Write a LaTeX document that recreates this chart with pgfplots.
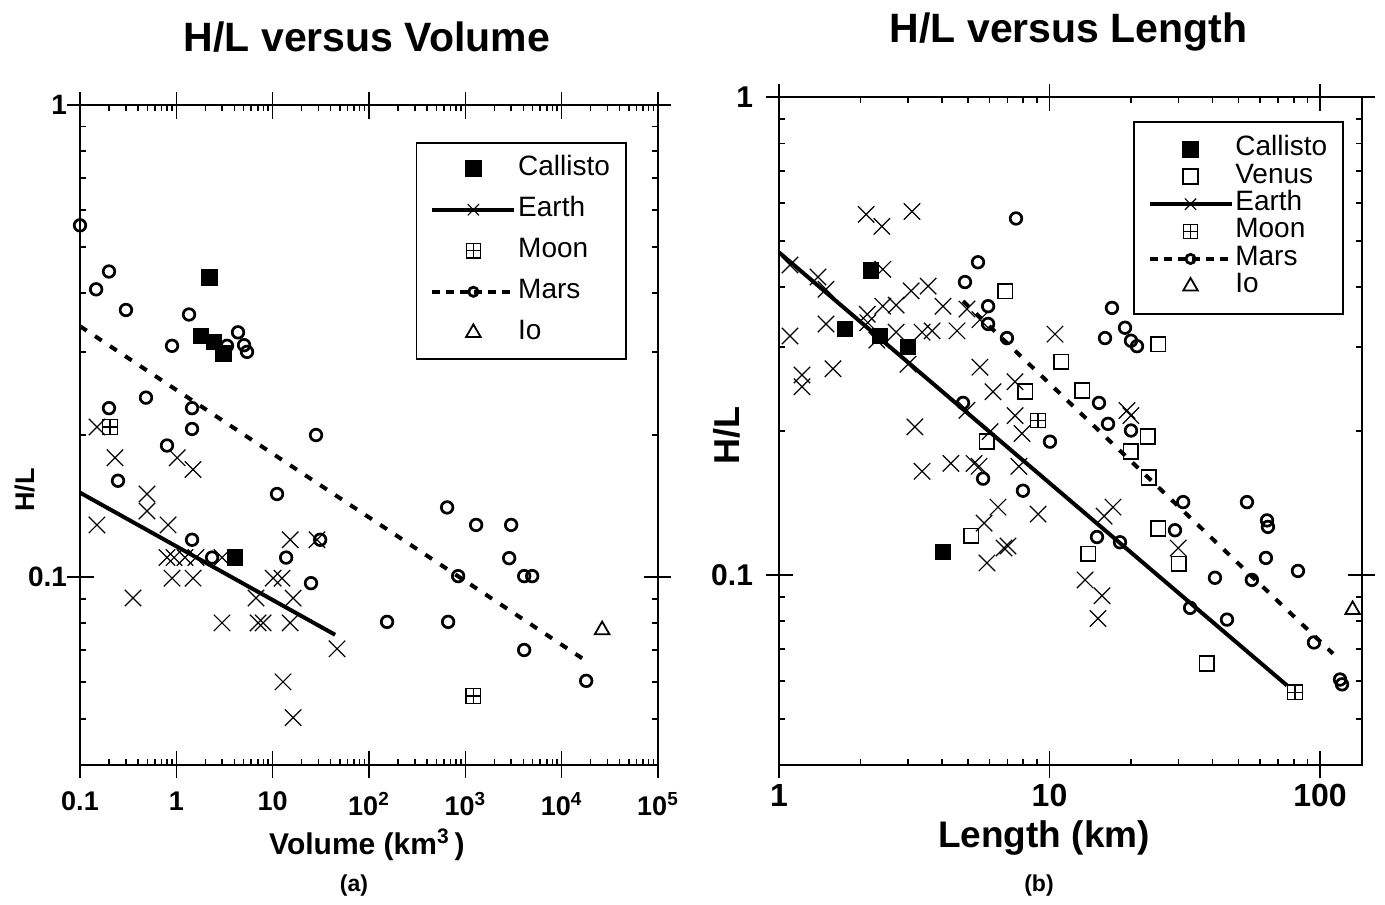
\documentclass[border=0pt]{standalone}
\usepackage{pgfplots}
\pgfplotsset{compat=1.18}
\usepackage{fontspec}
\setmainfont{Liberation Sans}
\usetikzlibrary{plotmarks}

% square with a plus inside (Moon)
\pgfdeclareplotmark{boxplus}{%
  \pgfpathrectangle{\pgfqpoint{-\pgfplotmarksize}{-\pgfplotmarksize}}{\pgfqpoint{2\pgfplotmarksize}{2\pgfplotmarksize}}%
  \pgfpathmoveto{\pgfqpoint{-\pgfplotmarksize}{0pt}}\pgfpathlineto{\pgfqpoint{\pgfplotmarksize}{0pt}}%
  \pgfpathmoveto{\pgfqpoint{0pt}{-\pgfplotmarksize}}\pgfpathlineto{\pgfqpoint{0pt}{\pgfplotmarksize}}%
  \pgfusepathqstroke}

\newcommand{\fs}[1]{\fontsize{#1}{#1}\selectfont}

\tikzset{
  callpt/.style={only marks, mark=square*, mark size=3.9pt, black},
  venpt/.style={only marks, mark=square, mark size=3.7pt, line width=0.9pt, black},
  earthpt/.style={only marks, mark=x, mark size=5.8pt, line width=0.6pt, black},
  moonpt/.style={only marks, mark=boxplus, mark size=3.6pt, line width=0.6pt, black},
  marspt/.style={only marks, mark=o, mark size=2.9pt, line width=1.35pt, black},
  iopt/.style={only marks, mark=triangle, mark size=4.2pt, line width=0.9pt, black},
  earthfit/.style={mark=none, line width=2pt, black},
  marsfit/.style={mark=none, line width=2pt, black, dash pattern=on 4pt off 5pt},
  earthleg/.style={black, line width=1.8pt, mark=x, mark size=4pt, mark options={line width=0.6pt}},
  marsleg/.style={black, line width=1.8pt, dash pattern=on 4pt off 3pt, mark=o, mark size=2.3pt, mark options={solid, line width=1.4pt}},
}

\begin{document}
\begin{tikzpicture}
\path[use as bounding box] (0pt,0pt) rectangle (692.5pt,452pt);

% ---------------- (a) H/L versus Volume ----------------
\begin{axis}[at={(40pt,69.5pt)}, anchor=south west, width=289pt, height=330pt,
  scale only axis, xmode=log, ymode=log, ymin=0.04, ymax=1,
  axis line style={line width=1.1pt},
  tick style={line width=0.8pt, black},
  tick align=inside, major tick length=7pt, minor tick length=3pt,
  clip=false,
  xmin=0.1, xmax=1e5,
  xtick={0.1,1,10,100,1000,10000,100000},
  xticklabels={0.1,1,10,10\textsuperscript{2},10\textsuperscript{3},10\textsuperscript{4},10\textsuperscript{5}},
  minor xtick={0.2,0.3,0.4,0.5,0.6,0.7,0.8,0.9,2,3,4,5,6,7,8,9,20,30,40,50,60,70,80,90,
    200,300,400,500,600,700,800,900,2000,3000,4000,5000,6000,7000,8000,9000,
    20000,30000,40000,50000,60000,70000,80000,90000},
  extra x ticks={0.1,1,10,100,1000,10000,100000}, extra x tick labels={},
  extra x tick style={tick align=outside, major tick length=6.5pt},
  ytick={0.1,1}, yticklabels={0.1,1},
  minor ytick={0.05,0.06,0.07,0.08,0.09,0.2,0.3,0.4,0.5,0.6,0.7,0.8,0.9},
  extra y ticks={0.1,1}, extra y tick labels={},
  extra y tick style={tick align=outside, major tick length=6.5pt},
  xticklabel style={font=\bfseries\fs{13.5}, yshift=-10pt},
  yticklabel style={font=\bfseries\fs{14}, xshift=-3pt},
  title={H/L versus Volume},
  title style={font=\bfseries\fs{20.5}, at={(0.4965,1.0803)}, anchor=base, yshift=-6pt},
  xlabel={Volume (km\textsuperscript{3}\,)},
  xlabel style={font=\bfseries\fs{15}, at={(0.4965,-0.121)}, anchor=center},
  ylabel={H/L},
  ylabel style={font=\bfseries\fs{13.5}, at={(-0.095,0.4167)}, anchor=center},
  legend cell align=left,
  legend image code/.code={\draw[mark repeat=2,mark phase=2,#1] plot coordinates {(0pt,0pt) (20.5pt,0pt) (41pt,0pt)};},
  legend style={at={(0.946,0.944)}, anchor=north east, draw=black, line width=0.8pt,
    font=\fs{14}, inner xsep=7pt, inner ysep=5.5pt, row sep=5.5pt,
    nodes={inner sep=1pt, text height=10pt, text depth=3pt},
    /tikz/every even column/.append style={column sep=2pt}},
]
% Callisto
\addplot[callpt, forget plot] coordinates {
  (2.19,0.431) (1.80,0.324) (2.46,0.315) (3.06,0.298) (4.07,0.110)};
% Earth
\addplot[earthpt, forget plot] coordinates {
  (0.150,0.208) (0.231,0.179) (1.02,0.179) (1.49,0.169) (0.496,0.150)
  (0.496,0.138) (0.150,0.129) (0.820,0.129) (15.2,0.120) (28.9,0.120)
  (0.80,0.110) (0.946,0.110) (1.23,0.110) (1.60,0.110) (2.98,0.110)
  (0.902,0.0995) (1.49,0.0995) (10.1,0.0995) (12.5,0.0995) (0.355,0.0903)
  (6.72,0.0903) (16.3,0.0903) (2.98,0.080) (7.05,0.080) (7.95,0.080)
  (15.2,0.080) (46.6,0.0705) (12.8,0.060) (16.3,0.0504)};
% Moon
\addplot[moonpt, forget plot] coordinates {(0.205,0.208) (1205,0.056)};
% Mars
\addplot[marspt, forget plot] coordinates {
  (0.1,0.556) (0.147,0.407) (0.200,0.444) (0.300,0.368) (0.902,0.309)
  (1.355,0.360) (4.37,0.330) (3.36,0.309) (5.05,0.310) (5.42,0.300)
  (0.200,0.228) (0.484,0.240) (1.456,0.228) (1.456,0.206) (0.80,0.190)
  (0.248,0.160) (11.1,0.150) (28.2,0.200) (1.456,0.120) (13.8,0.110)
  (31.1,0.120) (25.0,0.0971) (2.35,0.110) (647,0.1405) (1294,0.129)
  (2989,0.129) (2851,0.1097) (842,0.1005) (4080,0.1005) (4940,0.1005)
  (154,0.0804) (663,0.0804) (4080,0.0701) (17970,0.0603)};
% Io
\addplot[iopt, forget plot] coordinates {(26300,0.0773)};
% fits
\addplot[earthfit, forget plot] coordinates {(0.1,0.151) (44.5,0.0755)};
\addplot[marsfit, forget plot] coordinates {(0.1,0.340) (16700,0.0671)};
% legend
\addlegendimage{callpt}\addlegendentry{Callisto}
\addlegendimage{earthleg}\addlegendentry{Earth}
\addlegendimage{moonpt}\addlegendentry{Moon}
\addlegendimage{marsleg}\addlegendentry{Mars}
\addlegendimage{iopt}\addlegendentry{Io}
\end{axis}

% ---------------- (b) H/L versus Length ----------------
\begin{axis}[at={(389.5pt,69.5pt)}, anchor=south west, width=291.5pt, height=334pt,
  scale only axis, xmode=log, ymode=log, ymin=0.04, ymax=1,
  axis line style={line width=1.1pt},
  tick style={line width=0.8pt, black},
  tick align=inside, major tick length=7pt, minor tick length=3pt,
  clip=false,
  xmin=1, xmax=143,
  xtick={1,10,100}, xticklabels={1,10,100},
  minor xtick={2,3,4,5,6,7,8,9,20,30,40,50,60,70,80,90},
  extra x ticks={1,10,100}, extra x tick labels={},
  extra x tick style={tick align=outside, major tick length=6.5pt},
  ytick={0.1,1}, yticklabels={0.1,1},
  minor ytick={0.05,0.06,0.07,0.08,0.09,0.2,0.3,0.4,0.5,0.6,0.7,0.8,0.9},
  extra y ticks={0.1,1}, extra y tick labels={},
  extra y tick style={tick align=outside, major tick length=6.5pt},
  xticklabel style={font=\bfseries\fs{16}, yshift=-6pt},
  yticklabel style={font=\bfseries\fs{15}, xshift=-9.5pt},
  title={H/L versus Length},
  title style={font=\bfseries\fs{20.5}, at={(0.497,1.0823)}, anchor=base, yshift=-6pt},
  xlabel={Length (km)},
  xlabel style={font=\bfseries\fs{18.5}, at={(0.4545,-0.109)}, anchor=center},
  ylabel={H/L},
  ylabel style={font=\bfseries\fs{18}, at={(-0.089,0.494)}, anchor=center},
  legend cell align=left,
  legend image code/.code={\draw[mark repeat=2,mark phase=2,#1] plot coordinates {(0pt,0pt) (20.5pt,0pt) (41pt,0pt)};},
  legend style={at={(0.969,0.964)}, anchor=north east, draw=black, line width=0.8pt,
    font=\fs{14}, inner xsep=7pt, inner ysep=6.9pt, row sep=0pt,
    nodes={inner sep=1pt, text height=9pt, text depth=2.7pt},
    /tikz/every even column/.append style={column sep=2.5pt}},
]
% Callisto
\addplot[callpt, forget plot] coordinates {
  (2.19,0.434) (1.75,0.327) (2.36,0.316) (3.00,0.300) (4.04,0.1116)};
% Venus
\addplot[venpt, forget plot] coordinates {
  (6.85,0.3925) (11.03,0.279) (13.19,0.243) (8.12,0.2417) (25.2,0.304)
  (23.1,0.195) (20.0,0.1813) (23.3,0.160) (5.87,0.190) (25.2,0.125)
  (5.13,0.1206) (13.88,0.1106) (30.1,0.1054) (38.2,0.0653)};
% Earth
\addplot[earthpt, forget plot] coordinates {
  (2.10,0.568) (2.40,0.536) (3.10,0.576) (1.098,0.445) (2.42,0.436)
  (1.394,0.420) (1.492,0.396) (3.08,0.393) (3.56,0.402) (2.12,0.351)
  (2.42,0.365) (2.71,0.367) (4.04,0.365) (4.95,0.360) (1.492,0.335)
  (1.098,0.316) (2.13,0.337) (2.71,0.322) (3.38,0.322) (3.68,0.324)
  (4.55,0.324) (5.53,0.342) (2.30,0.310) (3.00,0.276) (1.583,0.270)
  (5.53,0.272) (1.216,0.262) (1.216,0.2475) (6.18,0.2417) (7.46,0.2536)
  (10.48,0.319) (3.18,0.204) (4.95,0.221) (7.46,0.2154) (7.91,0.1976)
  (6.03,0.1995) (19.34,0.2208) (20.0,0.2154) (3.38,0.1647) (4.32,0.1711)
  (5.26,0.1711) (5.49,0.1687) (7.71,0.1687) (6.45,0.1386) (5.73,0.1283)
  (9.07,0.134) (6.79,0.1138) (7.02,0.1149) (5.87,0.1059) (17.17,0.1386)
  (15.91,0.1327) (13.53,0.0976) (15.64,0.0904) (15.11,0.081) (29.9,0.1138)};
% Moon
\addplot[moonpt, forget plot] coordinates {(9.07,0.2103) (80.8,0.0568)};
% Mars
\addplot[marspt, forget plot] coordinates {
  (7.52,0.557) (5.44,0.451) (4.87,0.410) (5.93,0.365) (5.93,0.335)
  (6.96,0.313) (17.02,0.362) (16.04,0.313) (19.02,0.329) (20.01,0.309)
  (21.06,0.301) (4.79,0.229) (15.24,0.229) (16.46,0.207) (20.01,0.2005)
  (10.04,0.190) (5.68,0.159) (7.98,0.150) (14.98,0.120) (18.22,0.117)
  (31.2,0.142) (29.1,0.124) (53.7,0.142) (63.7,0.130) (64.2,0.126)
  (63.1,0.1085) (82.9,0.1019) (40.9,0.0986) (56.0,0.0976) (33.1,0.0853)
  (45.3,0.0806) (95.0,0.0722) (118.6,0.0604) (120.6,0.059)};
% Io
\addplot[iopt, forget plot] coordinates {(132,0.0845)};
% fits
\addplot[earthfit, forget plot] coordinates {(1,0.473) (75.5,0.0587)};
\addplot[marsfit, forget plot] coordinates {(4.79,0.374) (111.7,0.0684)};
% legend
\addlegendimage{callpt}\addlegendentry{Callisto}
\addlegendimage{venpt}\addlegendentry{Venus}
\addlegendimage{earthleg}\addlegendentry{Earth}
\addlegendimage{moonpt}\addlegendentry{Moon}
\addlegendimage{marsleg}\addlegendentry{Mars}
\addlegendimage{iopt}\addlegendentry{Io}
\end{axis}

\node[font=\bfseries\fs{11.5}] at (177pt,9pt) {(a)};
\node[font=\bfseries\fs{11.5}] at (519.5pt,9pt) {(b)};
\end{tikzpicture}
\end{document}
